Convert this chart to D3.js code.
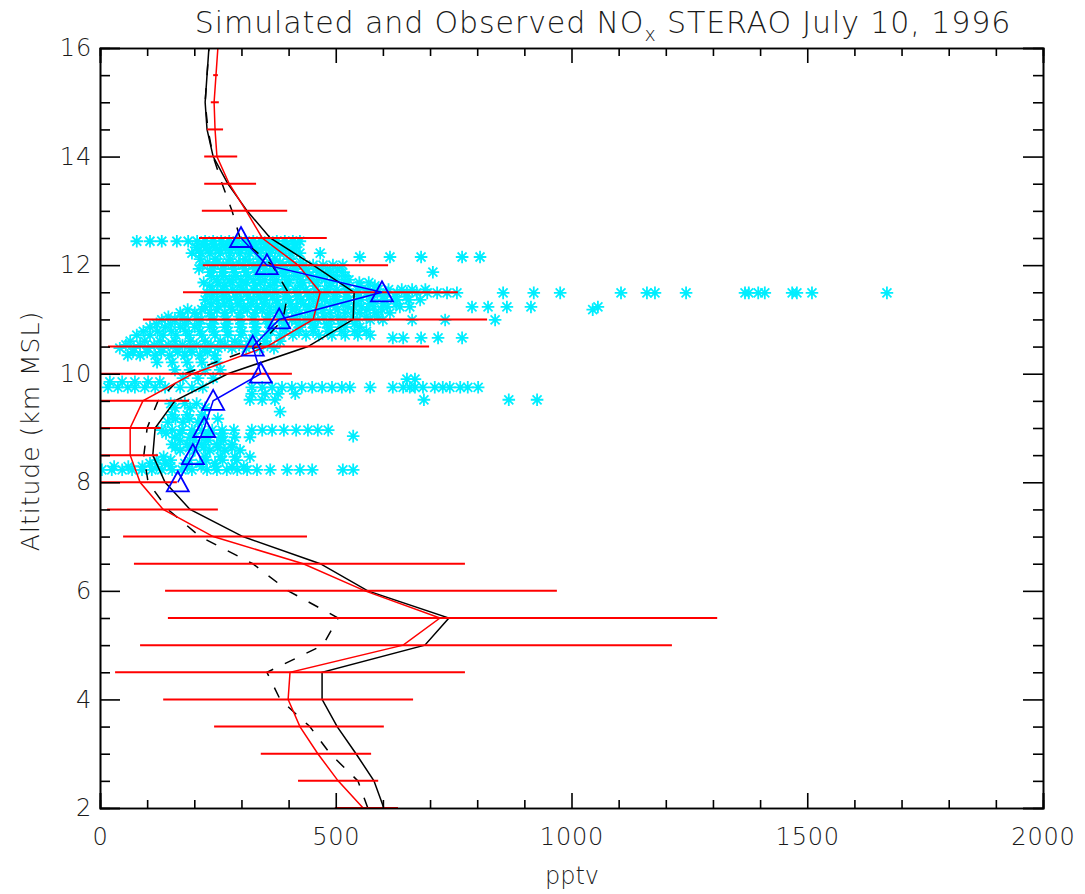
<!DOCTYPE html>
<meta charset="utf-8">
<head>
  <title>NOx STERAO</title>
</head>
<style>
  body { margin: 0; background: #fff; }
  text { font-family: "DejaVu Sans", sans-serif; font-weight: 200; fill: #1a1a1a; }
</style>
<body>
<div id="chart"></div>
<script src="https://d3js.org/d3.v7.min.js"></script>
<script>
// altitude levels of the model profiles (km MSL)
var levels = [2,2.5,3,3.5,4,4.5,5,5.5,6,6.5,7,7.5,8,8.5,9,9.5,10,10.5,11,11.5,12,12.5,13,13.5,14,14.5,15,15.5,16];

// red model mean and its spread (pptv)
var redMean = [558,505,462,424,399,403,643,721,562,431,240,134,85,64,64,91,197,354,452,467,420,344,310,274,248,244,242,246,250];
var redLo   = [498,420,341,242,134,32,85,144,138,72,49,15,-5,-5,-1,-7,-13,17,91,176,218,210,216,221,221,227,235,240,243];
var redHi   = [632,590,575,602,664,774,1213,1309,969,774,439,250,163,123,129,189,407,698,821,759,611,481,397,331,291,261,252,250,257];

// black solid and black dashed model profiles (pptv)
var blackSolid  = [602,581,543,503,471,471,689,740,568,467,303,191,138,112,117,159,271,441,537,539,452,361,312,271,240,227,223,227,231];
var blackDashed = [568,547,488,445,382,354,473,505,399,324,212,144,102,93,100,123,180,335,388,399,365,297,280,259,240,229,223,227,231];

// observed leg means (blue triangles)
var obsMeanAlt = [8,8.5,9,9.5,10,10.5,11,11.5,12,12.5];
var obsMeanNox = [165,197,221,240,341,324,380,598,354,299];

// individual observations, grouped by altitude (km, [pptv...])
var obsRows = [
  [12.44, [78,106,131,163,187,206,223,240,257,274,291,308,325,341,358,375,392,409,424]],
  [12.38, [220,240,262,284,306,328,350,372,394,414]],
  [12.33, [204,225,246,267,288,310,331,352,373,394,416]],
  [12.27, [210,232,254,276,298,320,342,364,386,408]],
  [12.22, [195,214,233,255,276,297,318,339,361,382,403,424,467]],
  [12.15, [551,615,681,768,806]],
  [12.11, [212,244,276,308,339,371,403]],
  [12.05, [228,250,272,294,316,338,360,382,404,426]],
  [12.0,  [218,240,261,282,303,325,346,367,388,409,431,452,473,494,515]],
  [11.93, [210,240,262,284,306,328,350,372,394,416,438,460,482,504]],
  [11.87, [233,259,284,310,335,361,386,411,437,462,488,513,706]],
  [11.8,  [236,262,288,314,340,366,392,418,444,470,496,520]],
  [11.73, [248,274,299,325,350,375,401,426,452,477,503,528]],
  [11.68, [220,250,280,310,340,370,400,430,460,490,520,550,570]],
  [11.62, [233,265,297,329,361,392,424,456,488,520,551,583]],
  [11.55, [238,260,282,304,326,348,370,392,414,436,458,480,502,524,546,568,590,612,640,662,690]],
  [11.49, [227,248,269,291,312,333,354,375,397,418,439,460,481,503,524,545,566,588,609,630,651,672,694,715,736,757,
           855,920,976,1105,1160,1177,1243,1368,1376,1396,1410,1468,1478,1510,1669]],
  [11.42, [236,262,288,314,340,366,392,418,444,470,496,522,548,574,600,626,650]],
  [11.36, [223,248,274,299,325,350,375,401,426,452,477,503,528,554,579,604,630,655,679]],
  [11.29, [236,264,292,320,348,376,404,432,460,488,516,544,572,600,628]],
  [11.23, [223,251,278,305,333,360,388,416,443,471,499,526,554,581,609,636,657,789,823,863,914,1056]],
  [11.18, [186,216,248,280,312,344,376,408,440,472,504,536,566,598,1045]],
  [11.12, [170,201,233,265,297,329,361,392,424,456,488,520,551,583,615]],
  [11.05, [145,175,205,235,265,295,325,355,385,415,445,475,505,535,565,590]],
  [10.99, [131,159,187,214,242,269,297,325,352,380,407,435,462,490,518,545,573,600,662,732,838]],
  [10.92, [120,150,180,210,240,270,300,330,360,390,420,450,480,510,540]],
  [10.86, [106,138,170,201,233,265,297,329,361,392,424,456,488,520,551]],
  [10.78, [92,122,152,182,212,242,272,302,332,362,392,422,452,482,512,540,565]],
  [10.71, [78,106,134,161,189,216,244,271,299,327,354,382,409,437,464,492,520,547,573]],
  [10.66, [621,643,681,717,768]],
  [10.6,  [64,95,127,159,191,223,255,286,318,350,382]],
  [10.53, [55,85,115,145,175,205,235,265,295,325,355]],
  [10.47, [42,72,102,131,161,191,221,250,280,310,339,369]],
  [10.4,  [70,100,130,165,195,228]],
  [10.34, [59,85,117,148,180,212,244]],
  [10.21, [121,153,185,216,248]],
  [10.07, [159,191,223,255]],
  [9.92,  [176,208,240]],
  [9.85,  [21,47,74,102,127]],
  [9.75,  [17,38,59,74,95,117,138,170,195,218,322,344,365,386,407,428,450,471,492,513,530,573,
           621,643,657,668,685,710,727,742,764,780,802]],
  [9.9,   [651,668]],
  [9.63,  [322,350,378,414]],
  [9.52,  [318,344,371,687,867,927]],
  [9.45,  [150,180,205]],
  [9.37,  [159,191,223]],
  [9.3,   [382]],
  [9.24,  [153,185,216]],
  [9.17,  [160,190,220,250]],
  [9.11,  [144,176,208]],
  [8.96,  [131,153,174,195,216,238,259,284,322,344,365,390,416,441,462,484]],
  [8.9,   [140,170,200,230,260]],
  [8.85,  [537]],
  [8.83,  [159,191,223,255,286,318]],
  [8.77,  [170,200,230,262]],
  [8.7,   [153,185,216,248,280]],
  [8.64,  [160,190,220,250,280]],
  [8.59,  [170,201,233,265,297]],
  [8.47,  [135,223,255,286,318]],
  [8.41,  [120,150,190,225,260,290]],
  [8.35,  [106,138,180,212,244]],
  [8.29,  [30,60,90,120,150,185,215,245,280,305]],
  [8.23,  [4,25,47,68,89,110,131,153,174,195,227,248,269,291,312,333,361,397,424,450,515,537]]
];

var xMajor = [0,500,1000,1500,2000];
var yMajor = [2,4,6,8,10,12,14,16];

var W = 1085, H = 894;
var svg = d3.select("#chart").append("svg")
  .attr("width", W).attr("height", H);

var x = d3.scaleLinear().domain([0, 2000]).range([100, 1043]);
var y = d3.scaleLinear().domain([2, 16]).range([808, 48]);

svg.append("clipPath").attr("id", "plotclip")
  .append("rect").attr("x", 100).attr("y", 48).attr("width", 943).attr("height", 760);

var plot = svg.append("g").attr("clip-path", "url(#plotclip)");

// observations: 8-armed asterisks
var star = "M-6.3,0H6.3M0,-6.3V6.3M-4.5,-4.5L4.5,4.5M-4.5,4.5L4.5,-4.5";
var obsPts = [];
obsRows.forEach(function(r) {
  r[1].forEach(function(v) { obsPts.push({alt: r[0], nox: v}); });
});
plot.append("g").selectAll("path").data(obsPts).enter().append("path")
  .attr("d", star)
  .attr("transform", function(d) { return "translate(" + x(d.nox) + "," + y(d.alt) + ")"; })
  .attr("stroke", "#00eeff").attr("stroke-width", 1.8).attr("fill", "none");

var line = function(vals) {
  return d3.line()
    .x(function(d) { return x(d); })
    .y(function(d, i) { return y(levels[i]); })(vals);
};

plot.append("path").attr("d", line(blackDashed))
  .attr("fill", "none").attr("stroke", "#000").attr("stroke-width", 1.5)
  .attr("stroke-dasharray", "11,13");
plot.append("path").attr("d", line(blackSolid))
  .attr("fill", "none").attr("stroke", "#000").attr("stroke-width", 1.5);
plot.append("path").attr("d", line(redMean))
  .attr("fill", "none").attr("stroke", "#ff0000").attr("stroke-width", 1.5);

// red spread bars
plot.append("g").selectAll("line").data(levels).enter().append("line")
  .attr("x1", function(d, i) { return x(redLo[i]); })
  .attr("x2", function(d, i) { return x(redHi[i]); })
  .attr("y1", function(d) { return y(d); })
  .attr("y2", function(d) { return y(d); })
  .attr("stroke", "#ff0000").attr("stroke-width", 2);

// observed means
plot.append("path")
  .attr("d", d3.line()
    .x(function(d) { return x(d); })
    .y(function(d, i) { return y(obsMeanAlt[i]); })(obsMeanNox))
  .attr("fill", "none").attr("stroke", "#0000ff").attr("stroke-width", 1.5);
plot.append("g").selectAll("path").data(obsMeanNox).enter().append("path")
  .attr("d", "M0,-11L11,9L-11,9Z")
  .attr("transform", function(d, i) { return "translate(" + x(d) + "," + y(obsMeanAlt[i]) + ")"; })
  .attr("fill", "none").attr("stroke", "#0000ff").attr("stroke-width", 1.8);

// axes, IDL style box with inward ticks
var xMinor = d3.range(0, 2001, 100).filter(function(v) { return v % 500 !== 0; });
var yMinor = d3.range(2, 16.01, 0.5).filter(function(v) { return v % 2 !== 0; });

function styleAxis(g) {
  g.selectAll(".domain").attr("stroke", "#000").attr("stroke-width", 1.6);
  g.selectAll(".tick line").attr("stroke", "#000").attr("stroke-width", 1.6);
  g.selectAll(".tick text").style("font-size", "24px").style("letter-spacing", "0.8px")
    .style("font-family", "DejaVu Sans, sans-serif").style("font-weight", 200).attr("fill", "#1a1a1a");
}

svg.append("g").attr("transform", "translate(0,808)")
  .call(d3.axisBottom(x).tickValues(xMajor).tickSize(-15).tickPadding(20).tickFormat(d3.format("d")))
  .call(styleAxis);
svg.append("g").attr("transform", "translate(0,808)")
  .call(d3.axisBottom(x).tickValues(xMinor).tickSize(-8).tickFormat(""))
  .call(styleAxis);
svg.append("g").attr("transform", "translate(0,48)")
  .call(d3.axisTop(x).tickValues(xMajor).tickSize(-15).tickFormat(""))
  .call(styleAxis);
svg.append("g").attr("transform", "translate(0,48)")
  .call(d3.axisTop(x).tickValues(xMinor).tickSize(-8).tickFormat(""))
  .call(styleAxis);

svg.append("g").attr("transform", "translate(100,0)")
  .call(d3.axisLeft(y).tickValues(yMajor).tickSize(-20).tickPadding(8).tickFormat(d3.format("d")))
  .call(styleAxis);
svg.append("g").attr("transform", "translate(100,0)")
  .call(d3.axisLeft(y).tickValues(yMinor).tickSize(-10).tickFormat(""))
  .call(styleAxis);
svg.append("g").attr("transform", "translate(1043,0)")
  .call(d3.axisRight(y).tickValues(yMajor).tickSize(-20).tickFormat(""))
  .call(styleAxis);
svg.append("g").attr("transform", "translate(1043,0)")
  .call(d3.axisRight(y).tickValues(yMinor).tickSize(-10).tickFormat(""))
  .call(styleAxis);

// titles
var title = svg.append("text").attr("x", 603).attr("y", 33)
  .attr("text-anchor", "middle").style("font-size", "30px").style("letter-spacing", "0.9px");
title.append("tspan").text("Simulated and Observed NO");
title.append("tspan").attr("dy", 8).style("font-size", "19px").text("x");
title.append("tspan").attr("dy", -8).text(" STERAO July 10, 1996");

svg.append("text").attr("x", 572).attr("y", 884)
  .attr("text-anchor", "middle").style("font-size", "24px").text("pptv");

svg.append("text")
  .attr("transform", "translate(39,431) rotate(-90)")
  .attr("text-anchor", "middle").style("font-size", "25px").style("letter-spacing", "1px")
  .text("Altitude (km MSL)");
</script>
</body>
</html>
